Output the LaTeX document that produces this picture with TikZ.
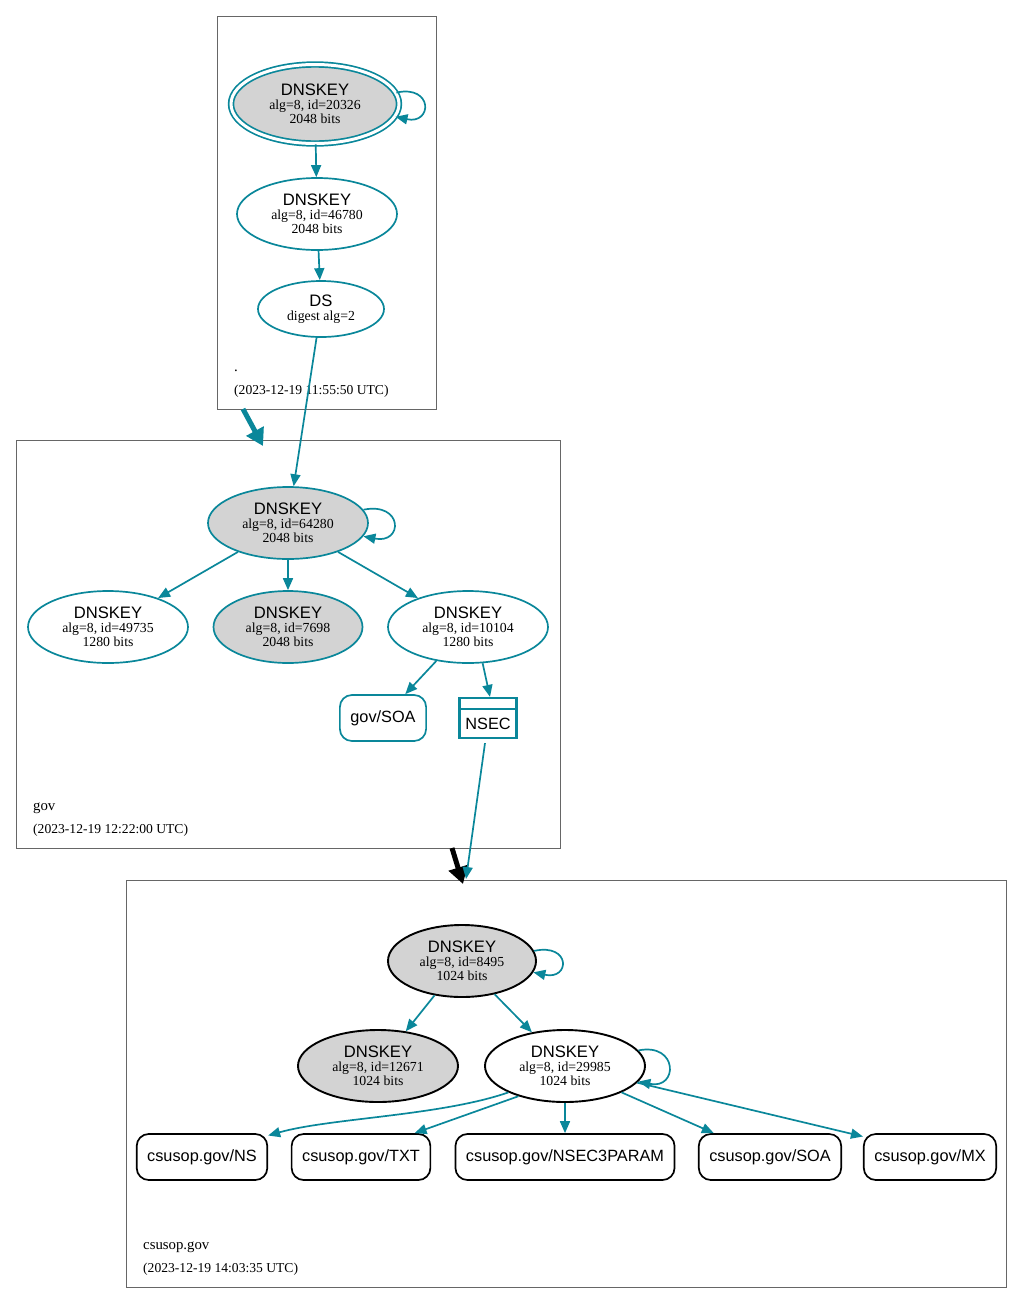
\documentclass[tikz,border=0pt]{standalone}
\usepackage{fontspec}
\setmainfont{Liberation Serif}
\setsansfont{Liberation Sans}
\usetikzlibrary{shapes.geometric,arrows.meta,calc}

\definecolor{secure}{HTML}{0A879A}
\definecolor{keyfill}{HTML}{D3D3D3}
\definecolor{zoneline}{HTML}{666666}

\newcommand{\keytext}[2]{{\fontsize{16.6}{13.8}\sffamily DNSKEY}\\#1\\#2}

\begin{document}
\begin{tikzpicture}[x=1pt, y=-1pt]
        % Styles for zones, keys and rrsets
        \tikzset{
            zone/.style={draw=zoneline, line width=0.8pt},
            zonelabel/.style={anchor=base west, inner sep=0pt, font=\fontsize{14.8}{14.8}\selectfont},
            zonetime/.style={anchor=base west, inner sep=0pt, font=\fontsize{13.6}{13.6}\selectfont},
            key/.style={ellipse, draw=secure, line width=1.7pt, inner sep=0pt,
                minimum width=160pt, minimum height=72pt, align=center,
                font=\fontsize{13.8}{13.8}\selectfont},
            ksk/.style={key, fill=keyfill},
            blackkey/.style={key, draw=black, line width=1.9pt},
            rrset/.style={rectangle, rounded corners=12pt, draw=secure, line width=1.7pt,
                inner xsep=10.5pt, inner ysep=0pt, minimum height=46pt,
                font=\fontsize{16.3}{16.3}\sffamily},
            blackrrset/.style={rrset, draw=black},
            edge/.style={secure, line width=1.7pt, -{Triangle[length=12pt,width=10pt]}},
            delegation/.style={line width=5pt, -{Triangle[length=17pt,width=19pt]}},
        }

        \useasboundingbox (0,0) rectangle (1023,1304);

        % Zone boxes
        \draw[zone] (217,16) rectangle (436,409);
        \draw[zone] (16,440) rectangle (560,848);
        \draw[zone] (126,880) rectangle (1006,1287);

        % Root zone
        \node[ksk, double=white, double distance=3pt, minimum width=168pt, minimum height=79pt]
            (k20326) at (315,104) {\keytext{alg=8, id=20326}{2048 bits}};
        \node[key] (k46780) at (317,214) {\keytext{alg=8, id=46780}{2048 bits}};
        \node[key, minimum width=126pt, minimum height=56pt] (ds) at (321,309)
            {{\fontsize{16.6}{14.5}\sffamily DS}\\digest alg=2};
        \node[zonelabel] (rootname) at (234,371) {.};
        \node[zonetime] (roottime) at (234,394) {(2023-12-19 11:55:50 UTC)};

        % gov zone
        \node[ksk] (k64280) at (288,523) {\keytext{alg=8, id=64280}{2048 bits}};
        \node[key] (k49735) at (108,627) {\keytext{alg=8, id=49735}{1280 bits}};
        \node[ksk, minimum width=149pt] (k7698) at (288,627) {\keytext{alg=8, id=7698}{2048 bits}};
        \node[key] (k10104) at (468,627) {\keytext{alg=8, id=10104}{1280 bits}};
        \node[rrset] (govsoa) at (383,718) {gov/SOA};
        \node[rectangle, draw=secure, line width=2.2pt, minimum width=57pt, minimum height=40pt]
            (nsec) at (488,718) {};
        \node[inner sep=0pt, font=\fontsize{16.3}{16.3}\sffamily] (nsectext) at (488,724) {NSEC};
        \draw[secure, line width=2.2pt] ($(nsec.north west)+(0,12)$) -- ($(nsec.north east)+(0,12)$);
        \node[zonelabel] (govname) at (33,810) {gov};
        \node[zonetime] (govtime) at (33,833) {(2023-12-19 12:22:00 UTC)};

        % csusop.gov zone
        \node[ksk, draw=black, line width=1.9pt, minimum width=148pt] (k8495) at (462,961)
            {\keytext{alg=8, id=8495}{1024 bits}};
        \node[ksk, draw=black, line width=1.9pt] (k12671) at (378,1066) {\keytext{alg=8, id=12671}{1024 bits}};
        \node[blackkey] (k29985) at (565,1066) {\keytext{alg=8, id=29985}{1024 bits}};
        \node[blackrrset] (ns) at (202,1157) {csusop.gov/NS};
        \node[blackrrset] (txt) at (361,1157) {csusop.gov/TXT};
        \node[blackrrset] (nsec3param) at (565,1157) {csusop.gov/NSEC3PARAM};
        \node[blackrrset] (soa) at (770,1157) {csusop.gov/SOA};
        \node[blackrrset] (mx) at (930,1157) {csusop.gov/MX};
        \node[zonelabel] (csusopname) at (143,1249) {csusop.gov};
        \node[zonetime] (csusoptime) at (143,1272) {(2023-12-19 14:03:35 UTC)};

        % Zone to zone arrows
        \coordinate (roottail) at (243,409);
        \coordinate (govhead) at (263,446);
        \coordinate (govtail) at (452,848);
        \coordinate (csusophead) at (463,884);
        \coordinate (nsecend) at (466,879);
        \draw[delegation, secure] (roottail) -- (govhead);
        \draw[delegation, black] (govtail) -- (csusophead);

        % Edges
        \draw[edge] (k20326.8) .. controls +(37,-8) and +(37,8) .. (k20326.-9);
        \draw[edge] (k20326) -- (k46780);
        \draw[edge] (k46780) -- (ds);
        \draw[edge] (ds) -- (k64280);

        \draw[edge] (k64280.10) .. controls +(40,-8) and +(40,8) .. (k64280.-10);
        \draw[edge] (k64280) -- (k49735);
        \draw[edge] (k64280) -- (k7698);
        \draw[edge] (k64280) -- (k10104);
        \draw[edge] (k10104) -- (govsoa);
        \draw[edge] (k10104.-68) -- ($(nsec.north)+(2,0)$);
        \draw[edge] (nsec.south) ++(-3,4) -- (nsecend);

        \draw[edge] (k8495.8) .. controls +(37,-8) and +(37,8) .. (k8495.-9);
        \draw[edge] (k8495) -- (k12671);
        \draw[edge] (k8495) -- (k29985);
        \draw[edge] (k29985.12) .. controls +(40,-8) and +(40,8) .. (k29985.-12);
        \draw[edge] (k29985.205) .. controls (440,1116) and (330,1118) .. (ns.18);
        \draw[edge] (k29985.213) -- (txt.24);
        \draw[edge] (k29985) -- (nsec3param);
        \draw[edge] (k29985.335) -- (soa.157);
        \draw[edge] (k29985.347) -- (mx.163);
\end{tikzpicture}
\end{document}
